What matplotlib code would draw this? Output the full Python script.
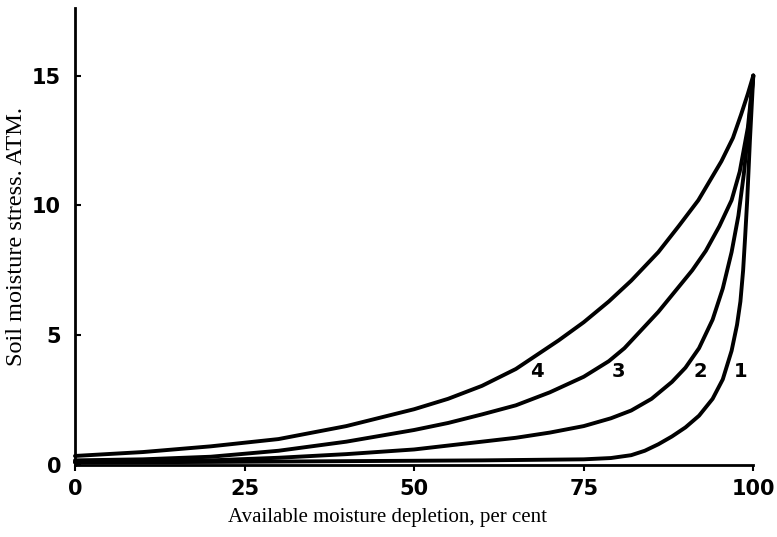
import matplotlib.pyplot as plt

# curve 1 .. 4 (depletion %, stress atm)
x1 = [0, 20, 40, 60, 75, 79, 82, 84, 86, 88, 90, 92, 94, 95.5, 96.8, 97.6,
      98.1, 98.5, 98.8, 99.1, 99.5, 100]
y1 = [0.1, 0.12, 0.15, 0.18, 0.22, 0.27, 0.38, 0.55, 0.8, 1.1, 1.45, 1.9,
      2.55, 3.3, 4.4, 5.4, 6.3, 7.5, 8.8, 10.2, 12.5, 15]

x2 = [0, 20, 30, 40, 50, 60, 65, 70, 75, 79, 82, 85, 88, 90, 92, 94, 95.5,
      96.8, 97.8, 98.6, 99.3, 100]
y2 = [0.12, 0.18, 0.28, 0.42, 0.6, 0.9, 1.05, 1.25, 1.5, 1.8, 2.1, 2.55,
      3.2, 3.75, 4.5, 5.6, 6.8, 8.2, 9.6, 11.2, 13, 15]

x3 = [0, 10, 20, 30, 40, 50, 55, 60, 65, 70, 75, 78.7, 81, 83.5, 86, 88.5,
      91, 93, 95, 96.8, 98, 99.2, 100]
y3 = [0.18, 0.22, 0.32, 0.55, 0.9, 1.35, 1.62, 1.95, 2.3, 2.8, 3.4, 4.0,
      4.5, 5.2, 5.9, 6.7, 7.5, 8.25, 9.2, 10.2, 11.3, 13, 15]

x4 = [0, 10, 20, 30, 40, 50, 55, 60, 65, 71.3, 75, 78.7, 82, 86, 89, 91.9,
      95.3, 97, 98.2, 99.2, 100]
y4 = [0.35, 0.5, 0.72, 1.0, 1.5, 2.15, 2.55, 3.05, 3.7, 4.8, 5.5, 6.3, 7.1,
      8.2, 9.2, 10.2, 11.7, 12.6, 13.5, 14.3, 15]

curve_labels = ["1", "2", "3", "4"]
label_x = [98.2, 92.2, 80.1, 68.1]
label_y = [3.6, 3.6, 3.6, 3.6]

fig = plt.figure(figsize=(7.77, 5.37), dpi=100)
ax = fig.add_axes([0.0965, 0.134, 0.873, 0.851])

for xs, ys in [(x1, y1), (x2, y2), (x3, y3), (x4, y4)]:
    ax.plot(xs, ys, color="black", lw=2.8, solid_capstyle="round",
            solid_joinstyle="round", clip_on=False)

for t, lx, ly in zip(curve_labels, label_x, label_y):
    ax.text(lx, ly, t, fontsize=14, fontweight="bold", ha="center",
            va="center", family="DejaVu Sans")

ax.set_xlim(0, 100)
ax.set_ylim(0, 17.6)
ax.set_xticks([0, 25, 50, 75, 100])
ax.set_yticks([0, 5, 10, 15])
ax.spines["top"].set_visible(False)
ax.spines["right"].set_visible(False)
ax.spines["left"].set_linewidth(2)
ax.spines["bottom"].set_linewidth(2)
ax.tick_params(axis="x", direction="out", length=4, width=1.5, pad=6,
               labelsize=15)
ax.tick_params(axis="y", direction="in", length=4, width=1.5, pad=10,
               labelsize=15)
for lab in ax.get_xticklabels() + ax.get_yticklabels():
    lab.set_fontweight("bold")

ax.set_xlabel("Available moisture depletion, per cent", family="Liberation Serif",
              fontsize=15)
ax.set_ylabel("Soil moisture stress. ATM.", family="Liberation Serif",
              fontsize=17.5)
ax.xaxis.set_label_coords(0.46, -0.095)
ax.yaxis.set_label_coords(-0.071, 0.5)

fig.savefig("out.png", dpi=100)
